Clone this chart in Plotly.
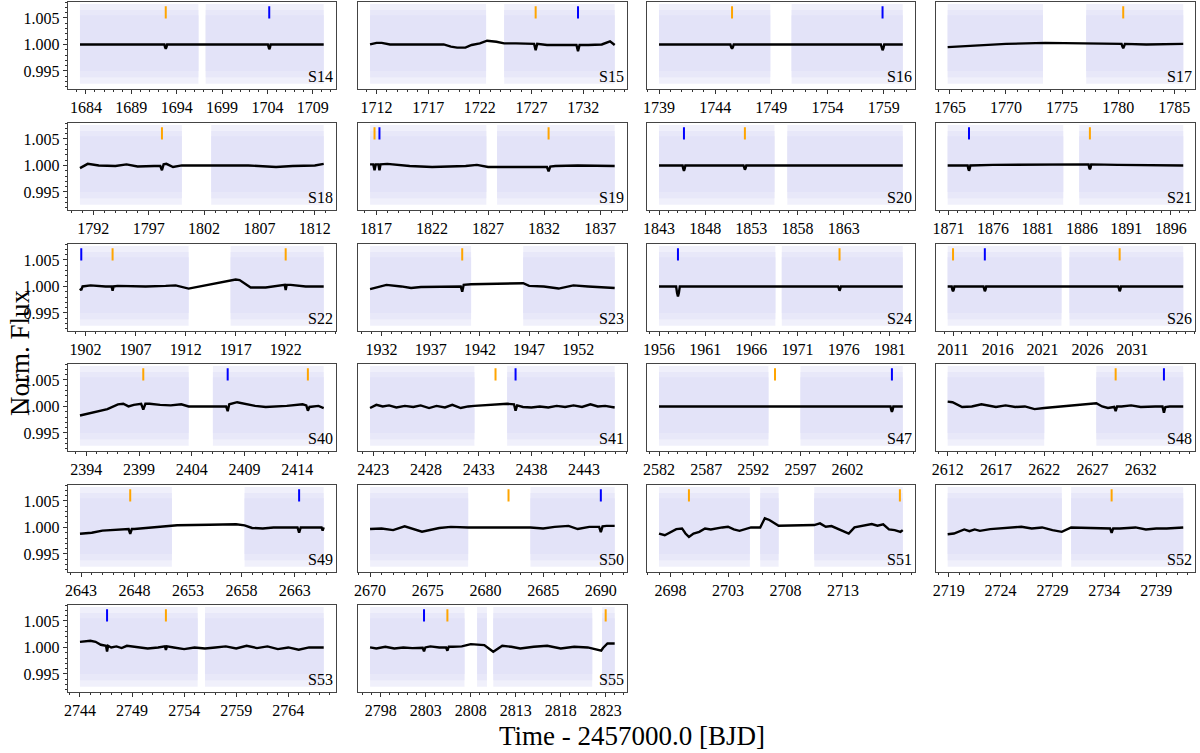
import plotly.graph_objects as go

# TESS sectors, one panel each (4 per row)
sectors = ["S14", "S15", "S16", "S17", "S18", "S19", "S20", "S21", "S22", "S23", "S24",
           "S26", "S40", "S41", "S47", "S48", "S49", "S50", "S51", "S52", "S53", "S55"]
tick_first = [1684, 1712, 1739, 1765, 1792, 1817, 1843, 1871, 1902, 1932, 1956,
              2011, 2394, 2423, 2582, 2612, 2643, 2670, 2698, 2719, 2744, 2798]
tick_last = [1709, 1732, 1759, 1785, 1812, 1837, 1863, 1896, 1922, 1952, 1981,
             2031, 2414, 2443, 2602, 2632, 2663, 2690, 2713, 2739, 2764, 2823]

# time coverage of the raw flux (one tuple per orbit)
segments = [
    [(1683.35, 1696.4), (1697.2, 1710.2)],
    [(1711.37, 1722.6), (1724.35, 1735.05)],
    [(1739.0, 1748.9), (1750.8, 1760.7)],
    [(1764.8, 1773.3), (1777.15, 1785.8)],
    [(1790.8, 1800.0), (1802.65, 1812.8)],
    [(1816.46, 1826.84), (1827.8, 1838.3)],
    [(1843.0, 1855.5), (1856.9, 1869.4)],
    [(1870.9, 1883.9), (1885.7, 1897.4)],
    [(1901.44, 1912.3), (1916.5, 1925.8)],
    [(1930.83, 1941.1), (1946.4, 1955.7)],
    [(1956.0, 1968.6), (1969.3, 1982.4)],
    [(2010.4, 2023.1), (2024.0, 2036.7)],
    [(2393.4, 2403.7), (2406.0, 2416.5)],
    [(2422.7, 2432.6), (2435.7, 2445.9)],
    [(2582.0, 2593.6), (2597.0, 2607.85)],
    [(2612.0, 2622.0), (2627.4, 2636.4)],
    [(2642.9, 2651.5), (2658.3, 2665.7)],
    [(2670.0, 2678.5), (2683.9, 2691.2)],
    [(2697.0, 2704.9), (2705.8, 2707.4), (2710.5, 2718.2)],
    [(2718.9, 2729.9), (2730.8, 2741.6)],
    [(2744.0, 2755.3), (2756.0, 2767.4)],
    [(2796.8, 2807.3), (2808.7, 2809.8), (2810.5, 2821.5), (2822.6, 2824.0)],
]

# transit epochs of the two planets
orange_t = [[1692.8], [1727.4], [1745.5], [1780.45], [1798.2], [1816.86, 1832.4], [1852.3],
            [1886.9], [1904.7, 1922.0], [1940.2], [1975.55], [2011.0, 2029.6],
            [2399.4, 2415.0], [2434.6], [2594.3], [2629.4], [2647.6], [2682.0],
            [2699.6, 2717.95], [2734.7], [2752.25], [2805.4, 2823.0]]
blue_t = [[1704.2], [1731.5], [1758.9], [], [], [1817.3], [1845.7], [1873.3], [1901.57], [],
          [1958.05], [2014.55], [2407.4], [2436.5], [2606.7], [2634.4], [2663.4], [2690.0],
          [], [], [2746.6], [2802.8]]

# detrended model (trend + transits)
s14_t = [1683.35, 1692.65, 1692.72, 1692.8, 1692.88, 1692.95, 1704.05, 1704.12, 1704.2, 1704.28, 1704.35, 1710.2]
s14_f = [1.0, 1.0, 0.9995, 0.9992, 0.9995, 1.0, 1.0, 0.9994, 0.9991, 0.9994, 1.0, 1.0]
s15_t = [1711.37, 1712.0, 1712.5, 1713.3, 1714.5, 1716, 1717.5, 1718.5, 1719.2, 1719.8, 1720.6, 1721.2,
         1722.0, 1722.7, 1723.6, 1724.35, 1725.5, 1727.25, 1727.4, 1727.55, 1728.5, 1730, 1731.35,
         1731.5, 1731.65, 1732.5, 1733.8, 1734.6, 1735.05]
s15_f = [1.0, 1.0003, 1.0003, 1.0, 1.0, 1.0, 0.9999, 1.0, 0.9996, 0.9994, 0.9994, 0.9999, 1.0002,
         1.0007, 1.0005, 1.0002, 1.0002, 1.0001, 0.9989, 1.0001, 0.9999, 0.9999, 0.9999, 0.9987,
         0.9999, 0.9999, 1.0, 1.0006, 0.9999]
s16_t = [1739.0, 1745.35, 1745.42, 1745.5, 1745.58, 1745.65, 1758.75, 1758.82, 1758.9, 1758.98, 1759.05, 1760.7]
s16_f = [1.0, 1.0, 0.9995, 0.9992, 0.9995, 1.0, 1.0, 0.9993, 0.9989, 0.9993, 1.0, 1.0]
s17_t = [1764.8, 1767, 1770, 1773.5, 1777, 1780.3, 1780.38, 1780.45, 1780.52, 1780.6, 1782.5, 1785.8]
s17_f = [0.9995, 0.9998, 1.0001, 1.0003, 1.0002, 1.0001, 0.9996, 0.9993, 0.9996, 1.0001, 1.0, 1.0001]
s18_t = [1790.8, 1791.5, 1792.5, 1794, 1795, 1796, 1797.5, 1798.05, 1798.2, 1798.35, 1798.6, 1799.2,
         1800.0, 1802.6, 1804, 1806, 1808.5, 1810, 1812, 1812.8]
s18_f = [0.9995, 1.0003, 1.0, 0.9999, 1.0002, 0.9998, 0.9999, 0.9999, 0.9991, 1.0002, 1.0003, 0.9997,
         1.0, 1.0, 0.9999, 1.0, 0.9997, 0.9999, 1.0, 1.0003]
s19_t = [1816.46, 1816.75, 1816.86, 1816.97, 1817.2, 1817.3, 1817.4, 1818, 1820, 1822, 1825, 1826,
         1827, 1830, 1832.25, 1832.4, 1832.55, 1833, 1835, 1838.3]
s19_f = [1.0002, 1.0002, 0.9991, 1.0002, 1.0002, 0.9991, 1.0002, 1.0003, 0.9999, 0.9997, 0.9999, 1.0001,
         0.9997, 0.9997, 0.9997, 0.9989, 0.9998, 0.9999, 1.0, 0.9999]
s20_t = [1843.0, 1845.55, 1845.62, 1845.7, 1845.78, 1845.85, 1852.15, 1852.22, 1852.3, 1852.38, 1852.45, 1869.4]
s20_f = [1.0, 1.0, 0.9994, 0.999, 0.9994, 1.0, 1.0, 0.9995, 0.9992, 0.9995, 1.0, 1.0]
s21_t = [1870.9, 1873.15, 1873.22, 1873.3, 1873.38, 1873.45, 1876, 1880, 1884, 1886.75, 1886.82,
         1886.9, 1886.98, 1887.05, 1890, 1894, 1897.4]
s21_f = [1.0, 1.0, 0.9994, 0.999, 0.9994, 1.0, 1.0001, 1.0001, 1.0002, 1.0002, 0.9996, 0.9993,
         0.9996, 1.0002, 1.0001, 1.0, 1.0]
s22_t = [1901.44, 1901.5, 1901.57, 1901.7, 1902.5, 1904, 1904.6, 1904.7, 1904.8, 1905.2, 1908, 1910,
         1911, 1912.3, 1917.0, 1917.4, 1918.5, 1920, 1921.9, 1922.0, 1922.1, 1922.5, 1924, 1925.8]
s22_f = [0.9996, 0.9993, 0.9993, 1.0, 1.0002, 1.0, 1.0, 0.9992, 1.0, 1.0001, 1.0, 1.0001, 1.0002,
         0.9996, 1.0013, 1.0012, 0.9998, 0.9998, 1.0003, 0.9993, 1.0003, 1.0003, 1.0, 1.0]
s23_t = [1930.83, 1932.5, 1934, 1935, 1936, 1938, 1940.05, 1940.2, 1940.35, 1941.1, 1946.4, 1947,
         1948.5, 1950, 1951.5, 1953, 1955.7]
s23_f = [0.9995, 1.0003, 1.0, 0.9997, 0.9999, 0.9999, 1.0, 0.999, 1.0003, 1.0004, 1.0006, 1.0001,
         1.0, 0.9996, 1.0002, 1.0, 0.9997]
s24_t = [1956.0, 1957.85, 1957.95, 1958.05, 1958.15, 1958.25, 1975.4, 1975.48, 1975.55, 1975.62, 1975.7, 1982.4]
s24_f = [1.0, 1.0, 0.9988, 0.9981, 0.9988, 1.0, 1.0, 0.9995, 0.9992, 0.9995, 1.0, 1.0]
s26_t = [2010.4, 2010.85, 2010.92, 2011.0, 2011.08, 2011.15, 2014.4, 2014.47, 2014.55, 2014.63, 2014.7,
         2029.45, 2029.52, 2029.6, 2029.68, 2029.75, 2036.7]
s26_f = [1.0, 1.0, 0.9994, 0.9991, 0.9994, 1.0, 1.0, 0.9994, 0.9991, 0.9994, 1.0, 1.0, 0.9994, 0.9991,
         0.9994, 1.0, 1.0]
s40_t = [2393.4, 2394, 2395, 2396, 2397, 2397.5, 2398, 2398.5, 2399.2, 2399.4, 2399.6, 2400, 2401, 2402,
         2403, 2403.7, 2406.0, 2406.6, 2407.25, 2407.4, 2407.55, 2408.3, 2409, 2410, 2411, 2412, 2413,
         2414.5, 2414.85, 2415.0, 2415.15, 2416, 2416.5]
s40_f = [0.9983, 0.9986, 0.9991, 0.9995, 1.0004, 1.0005, 1.0, 1.0003, 1.0005, 0.9994, 1.0005, 1.0005,
         1.0003, 1.0002, 1.0004, 1.0, 1.0, 1.0, 1.0, 0.9991, 1.0004, 1.0008, 1.0005, 1.0001, 0.9999, 1.0,
         1.0001, 1.0004, 1.0002, 0.9992, 0.9999, 1.0001, 0.9997]
s41_t = [2422.7, 2423.3, 2423.9, 2424.5, 2425.2, 2426, 2426.8, 2427.5, 2428.3, 2429, 2429.8, 2430.5,
         2431.3, 2432, 2432.6, 2435.7, 2436.35, 2436.5, 2436.65, 2437.2, 2438, 2438.8, 2439.6, 2440.4,
         2441.2, 2442, 2442.8, 2443.6, 2444.3, 2445, 2445.9]
s41_f = [0.9997, 1.0003, 1.0, 1.0002, 0.9998, 1.0001, 0.9999, 1.0002, 0.9997, 1.0001, 0.9998, 1.0003,
         0.9997, 1.0, 1.0001, 1.0005, 1.0004, 0.9992, 1.0002, 0.9999, 0.9998, 1.0, 0.9998, 1.0001, 0.9999,
         1.0002, 0.9999, 1.0004, 1.0, 1.0001, 0.9998]
s47_t = [2582.0, 2606.55, 2606.62, 2606.7, 2606.78, 2606.85, 2607.85]
s47_f = [1.0, 1.0, 0.9994, 0.999, 0.9994, 1.0, 1.0]
s48_t = [2612.0, 2612.5, 2613.5, 2614.5, 2615.5, 2617, 2618, 2619, 2620, 2621, 2622.0, 2627.4, 2628,
         2628.6, 2629.25, 2629.4, 2629.55, 2630, 2631, 2632, 2633.5, 2634.25, 2634.4, 2634.55, 2635, 2636.4]
s48_f = [1.0009, 1.0008, 0.9999, 1.0, 1.0004, 0.9999, 1.0002, 0.9999, 1.0, 0.9995, 0.9997, 1.0006, 1.0,
         0.9997, 0.9999, 0.9991, 1.0, 1.0, 1.0002, 0.9999, 1.0, 1.0, 0.9988, 0.9999, 1.0, 1.0]
s49_t = [2642.9, 2644, 2645, 2647.45, 2647.6, 2647.75, 2648, 2650, 2652, 2655, 2657.5, 2658.3, 2659,
         2660, 2661, 2663.25, 2663.4, 2663.55, 2664, 2665.5, 2665.6, 2665.7]
s49_f = [0.9988, 0.999, 0.9994, 0.9997, 0.9988, 0.9997, 0.9997, 1.0, 1.0004, 1.0005, 1.0006, 1.0004,
         0.9999, 0.9998, 1.0, 1.0, 0.999, 1.0, 1.0, 1.0, 0.9994, 1.0]
s50_t = [2670.0, 2671, 2672, 2673, 2674.5, 2675.5, 2676, 2677, 2678.5, 2683.9, 2685, 2686, 2687.2,
         2688, 2689, 2689.85, 2690.0, 2690.15, 2690.5, 2691.2]
s50_f = [0.9997, 0.9998, 0.9995, 1.0002, 0.9992, 0.9997, 0.9999, 1.0001, 1.0, 1.0, 0.9998, 1.0001,
         1.0003, 0.9997, 1.0001, 1.0001, 0.9991, 1.0002, 1.0003, 1.0003]
s51_t = [2697.0, 2697.5, 2698.5, 2699.0, 2699.3, 2699.6, 2700.0, 2700.5, 2701.0, 2701.5, 2702.5,
         2703.0, 2703.5, 2704.0, 2705.0, 2705.8, 2706.2, 2706.6, 2707.4, 2710.5, 2711.0, 2711.5,
         2712.0, 2712.5, 2713.0, 2713.5, 2714.0, 2715.0, 2715.5, 2716.0, 2716.5, 2717.0, 2717.5,
         2718.0, 2718.2]
s51_f = [0.99885, 0.99853, 0.99968, 0.99981, 0.99885, 0.99821, 0.99885, 0.99917, 0.99981, 0.99962,
         1.0, 1.00013, 0.99962, 0.99936, 1.0, 1.0, 1.00173, 1.00141, 1.00032, 1.00045, 1.00077,
         1.00013, 1.00026, 0.99981, 0.9993, 0.99885, 1.0, 1.00045, 1.00064, 1.00032, 1.00058,
         0.99962, 0.99949, 0.99917, 0.99949]
s52_t = [2718.9, 2719.5, 2720.5, 2721, 2721.5, 2722, 2723, 2724, 2725, 2726, 2727, 2728, 2729, 2729.9,
         2730.8, 2731.5, 2733, 2734.55, 2734.7, 2734.85, 2735.5, 2737, 2738, 2739, 2740, 2741.6]
s52_f = [0.99872, 0.99885, 0.99962, 0.9993, 0.99962, 0.99936, 0.99968, 0.99981, 1.0, 1.00013, 0.99981,
         1.0, 0.99949, 0.99917, 1.0, 0.99994, 0.99981, 0.99981, 0.9990, 0.99981, 0.99981, 1.0, 0.99962,
         0.99981, 0.99981, 1.0]
s53_t = [2744.0, 2745.0, 2745.5, 2746.0, 2746.5, 2746.6, 2746.7, 2747.0, 2747.5, 2748.0, 2748.5,
         2749.5, 2750.5, 2751.5, 2752.15, 2752.25, 2752.35, 2753.0, 2754.0, 2755.0, 2756.0, 2757.0,
         2758.0, 2759.0, 2760.0, 2761.0, 2762.0, 2763.0, 2764.0, 2765.0, 2766.0, 2767.4]
s53_f = [1.00106, 1.00125, 1.00106, 1.0005, 1.00031, 0.99925, 1.00031, 1.0, 1.00019, 0.99988, 1.00031,
         1.0, 0.99981, 1.0, 1.00019, 0.99956, 1.00019, 1.0, 0.99969, 1.0, 0.99981, 1.0, 1.00019,
         0.99981, 1.00031, 0.99988, 1.00019, 0.99969, 1.0, 0.99956, 1.0, 1.0]
s55_t = [2796.8, 2797.5, 2798.5, 2799.5, 2800.5, 2801.5, 2802.65, 2802.8, 2802.95, 2803.5, 2804.5,
         2805.25, 2805.4, 2805.55, 2806.0, 2807.0, 2808.0, 2809.5, 2810.5, 2811.5, 2812.5, 2813.5,
         2815.0, 2816.5, 2818.0, 2819.5, 2821.0, 2822.5, 2822.7, 2823.2, 2824.0]
s55_f = [1.0, 0.99981, 1.00012, 0.99981, 1.0, 0.99988, 0.99994, 0.99925, 1.0, 1.00019, 1.0, 1.0,
         0.99938, 1.00012, 1.00012, 1.00019, 1.00062, 1.00044, 0.99919, 1.00031, 1.00012, 0.99981,
         1.00012, 1.00031, 0.99981, 1.00012, 1.0, 0.99938, 0.9999, 1.00075, 1.00075]

model_t = [s14_t, s15_t, s16_t, s17_t, s18_t, s19_t, s20_t, s21_t, s22_t, s23_t, s24_t,
           s26_t, s40_t, s41_t, s47_t, s48_t, s49_t, s50_t, s51_t, s52_t, s53_t, s55_t]
model_f = [s14_f, s15_f, s16_f, s17_f, s18_f, s19_f, s20_f, s21_f, s22_f, s23_f, s24_f,
           s26_f, s40_f, s41_f, s47_f, s48_f, s49_f, s50_f, s51_f, s52_f, s53_f, s55_f]

W, H = 1200, 753
col_px = [(64, 333), (355, 625), (645, 914), (935, 1195)]
row_px = [(2, 89), (123, 210), (244, 331), (364, 451), (485, 572), (605, 692)]
YR = [0.9916, 1.0080]
FONT = "Liberation Serif, Times New Roman, serif"

fig = go.Figure()
layout = {}
annotations = []

for i, name in enumerate(sectors):
    n = i + 1
    r, c = divmod(i, 4)
    xa, ya = ("x%d" % n if n > 1 else "x"), ("y%d" % n if n > 1 else "y")

    # raw flux scatter shown as a shaded band per orbit
    for lo, hi, col in [(0.9926, 1.0076, "rgba(230,230,249,0.6)"),
                        (0.9938, 1.0065, "rgba(228,228,248,0.7)"),
                        (0.9950, 1.0055, "rgb(227,227,248)")]:
        for a, b in segments[i]:
            fig.add_trace(go.Scatter(x=[a, b, b, a, a], y=[lo, lo, hi, hi, lo], fill="toself",
                                     fillcolor=col, line=dict(width=0), mode="lines",
                                     hoverinfo="skip", showlegend=False, xaxis=xa, yaxis=ya))

    fig.add_trace(go.Scatter(x=model_t[i], y=model_f[i], mode="lines",
                             line=dict(color="black", width=2.4), showlegend=False,
                             xaxis=xa, yaxis=ya))

    for times, colr in [(orange_t[i], "#FFA500"), (blue_t[i], "#0000FF")]:
        xs, ys = [], []
        for t in times:
            xs += [t, t, None]
            ys += [1.0049, 1.0072, None]
        if xs:
            fig.add_trace(go.Scatter(x=xs, y=ys, mode="lines", line=dict(color=colr, width=2),
                                     showlegend=False, xaxis=xa, yaxis=ya))

    tmin = min(s[0] for s in segments[i])
    tmax = max(s[1] for s in segments[i])
    pad = 0.05 * (tmax - tmin)
    x0, x1 = col_px[c]
    top, bot = row_px[r]
    layout["xaxis%d" % n if n > 1 else "xaxis"] = dict(
        domain=[x0 / W, x1 / W], anchor=ya, range=[tmin - pad, tmax + pad],
        tickmode="array", tickvals=list(range(tick_first[i], tick_last[i] + 1, 5)),
        ticks="outside", ticklen=4, tickcolor="#333", showline=True, linecolor="#444",
        linewidth=1, mirror=True, showgrid=False, zeroline=False,
        tickfont=dict(family=FONT, size=16, color="black"),
        minor=dict(tickmode="linear", tick0=tick_first[i], dtick=1, ticks="outside",
                   ticklen=2, tickcolor="#333"))
    ydict = dict(
        domain=[1 - bot / H, 1 - top / H], anchor=xa, range=YR,
        showline=True, linecolor="#444", linewidth=1, mirror=True, showgrid=False,
        zeroline=False)
    if c == 0:
        ydict.update(tickmode="array", tickvals=[0.995, 1.0, 1.005],
                     ticktext=["0.995", "1.000", "1.005"], ticks="outside", ticklen=4,
                     tickcolor="#333", tickfont=dict(family=FONT, size=16, color="black"),
                     minor=dict(tickmode="linear", tick0=0.99, dtick=0.001, ticks="outside",
                                ticklen=2, tickcolor="#333"))
    else:
        ydict.update(showticklabels=False, ticks="")
    layout["yaxis%d" % n if n > 1 else "yaxis"] = ydict

    annotations.append(dict(text=name, xref=xa + " domain", yref=ya + " domain", x=0.995, y=0.02,
                            xanchor="right", yanchor="bottom", showarrow=False,
                            font=dict(family=FONT, size=16, color="black")))

annotations.append(dict(text="Time - 2457000.0 [BJD]", xref="paper", yref="paper",
                        x=630 / W, y=1 - 736 / H, xanchor="center", yanchor="middle",
                        showarrow=False, font=dict(family=FONT, size=27, color="black")))
annotations.append(dict(text="Norm. Flux", xref="paper", yref="paper", x=16 / W, y=1 - 352 / H,
                        xanchor="center", yanchor="middle", textangle=-90, showarrow=False,
                        font=dict(family=FONT, size=27, color="black")))

fig.update_layout(width=W, height=H, margin=dict(l=0, r=0, t=0, b=0),
                  paper_bgcolor="white", plot_bgcolor="white", annotations=annotations,
                  **layout)
fig.write_html("out.html", config={"displayModeBar": False},
               post_script="document.body.style.margin='0';")
